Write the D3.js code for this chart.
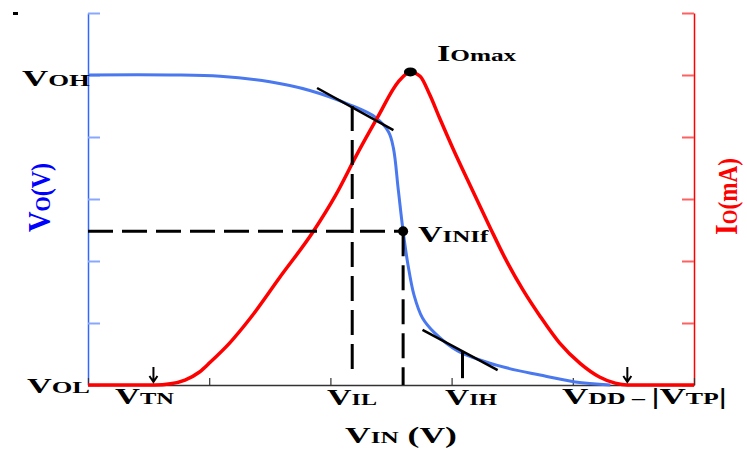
<!DOCTYPE html>
<html>
<head>
<meta charset="utf-8">
<style>
  body { margin: 0; background: #fff; }
  svg { display: block; }
  text { font-family: "Liberation Serif", "DejaVu Serif", serif; font-weight: bold; }
</style>
</head>
<body>
<svg width="747" height="450"></svg>
<script src="https://d3js.org/d3.v7.min.js"></script>
<script>
// VIN in tick units (0..5), outputs in tick units (0..6)
var voCurve = [
  [0, 5.0], [0.68, 5.0], [1.09, 4.98], [1.5, 4.89], [1.83, 4.75], [2.16, 4.52],
  [2.37, 4.32], [2.48, 4.08], [2.52, 3.82], [2.56, 3.15], [2.6, 2.48], [2.64, 1.94],
  [2.69, 1.45], [2.76, 1.08], [2.86, 0.84], [3.05, 0.55], [3.37, 0.32], [3.73, 0.16],
  [4.02, 0.05], [4.31, 0.0]
];
var ioCurve = [
  [0, 0], [0.55, 0], [0.68, 0.02], [0.8, 0.08], [0.92, 0.21], [1.01, 0.37],
  [1.17, 0.68], [1.34, 1.08], [1.58, 1.73], [1.86, 2.48], [2.04, 3.05], [2.23, 3.76],
  [2.39, 4.32], [2.56, 4.89], [2.66, 5.05], [2.74, 4.98], [2.82, 4.68], [2.9, 4.31],
  [3.01, 3.82], [3.17, 3.15], [3.32, 2.53], [3.44, 2.05], [3.59, 1.53], [3.73, 1.11],
  [3.89, 0.68], [4.06, 0.35], [4.22, 0.13], [4.35, 0.03], [4.45, 0], [5, 0]
];
var tangents = [
  [[1.89, 4.79], [2.52, 4.11]],
  [[2.76, 0.89], [3.38, 0.24]]
];
var vIL = 2.18, vINf = 2.6, voINf = 2.48, vIH = 3.09, voIH = 0.55, voIL = 4.5;
var peak = [2.66, 5.05];
var arrows = [0.54, 4.45];
var xTicks = [0, 1, 2, 3, 4, 5];
var yTicks = [0, 1, 2, 3, 4, 5, 6];

var svg = d3.select('svg');
var x = d3.scaleLinear().domain([0, 5]).range([88, 694]);
var y = d3.scaleLinear().domain([0, 6]).range([385, 13]);

// axes
var gl = svg.append('g').attr('transform', 'translate(88,0)')
  .call(d3.axisLeft(y).tickValues(yTicks).tickSize(-12).tickSizeOuter(0).tickFormat(''));
gl.select('.domain').attr('stroke', '#3366ff').attr('stroke-width', 1.5);
gl.selectAll('.tick line').attr('stroke', '#88a8ff').attr('stroke-width', 2);

var gr = svg.append('g').attr('transform', 'translate(694,0)')
  .call(d3.axisRight(y).tickValues(yTicks).tickSize(-12).tickSizeOuter(0).tickFormat(''));
gr.select('.domain').attr('stroke', '#ff0000').attr('stroke-width', 1.5);
gr.selectAll('.tick line').attr('stroke', '#ff6060').attr('stroke-width', 2);

var gb = svg.append('g').attr('transform', 'translate(0,385)')
  .call(d3.axisBottom(x).tickValues(xTicks).tickSize(-7).tickSizeOuter(0).tickFormat(''));
gb.select('.domain').attr('stroke', '#333').attr('stroke-width', 1.5);
gb.selectAll('.tick line').attr('stroke', '#333').attr('stroke-width', 1.2);

var voLine = d3.line().x(d => x(d[0])).y(d => y(d[1])).curve(d3.curveCatmullRom);
var ioLine = d3.line().x(d => x(d[0])).y(d => y(d[1])).curve(d3.curveMonotoneX);

svg.append('path').datum(voCurve).attr('d', voLine)
  .attr('fill', 'none').attr('stroke', '#4a78ee').attr('stroke-width', 3);
svg.append('path').datum(ioCurve).attr('d', ioLine)
  .attr('fill', 'none').attr('stroke', '#ff0000').attr('stroke-width', 3.5);

// dashed guides
var dash = svg.append('g').attr('stroke', '#000').attr('stroke-width', 3).attr('stroke-dasharray', '25,9');
dash.append('line').attr('x1', x(0)).attr('x2', x(vINf)).attr('y1', y(voINf)).attr('y2', y(voINf));
dash.append('line').attr('x1', x(vIL)).attr('x2', x(vIL)).attr('y1', y(voIL)).attr('y2', y(0.2));
dash.append('line').attr('x1', x(vINf)).attr('x2', x(vINf)).attr('y1', y(voINf)).attr('y2', y(0));

svg.append('line').attr('x1', x(vIH)).attr('x2', x(vIH)).attr('y1', y(voIH)).attr('y2', y(0.11))
  .attr('stroke', '#000').attr('stroke-width', 3);

svg.selectAll('.tan').data(tangents).enter().append('line')
  .attr('x1', d => x(d[0][0])).attr('y1', d => y(d[0][1]))
  .attr('x2', d => x(d[1][0])).attr('y2', d => y(d[1][1]))
  .attr('stroke', '#000').attr('stroke-width', 2.5);

svg.append('ellipse').attr('cx', x(peak[0])).attr('cy', y(peak[1])).attr('rx', 6.5).attr('ry', 4.5);
svg.append('circle').attr('cx', x(vINf)).attr('cy', y(voINf)).attr('r', 5);

svg.selectAll('.arr').data(arrows).enter().append('path')
  .attr('d', d => 'M' + x(d) + ',367 L' + x(d) + ',382 M' + (x(d) - 4) + ',376 L' + x(d) + ',382 L' + (x(d) + 4) + ',376')
  .attr('fill', 'none').attr('stroke', '#000').attr('stroke-width', 2);

svg.append('rect').attr('x', 13).attr('y', 12).attr('width', 5).attr('height', 3);

// labels: text stretched to the measured width
function label(px, py, parts, width, color, rot) {
  var g = svg.append('g');
  var t = g.append('text').attr('fill', color || '#000');
  parts.forEach(p => t.append('tspan').attr('font-size', p[1]).text(p[0]));
  var w = t.node().getBBox().width;
  g.attr('transform', 'translate(' + px + ',' + py + ')' + (rot ? ' rotate(' + rot + ')' : '') + ' scale(' + (width / w) + ',1)');
}
label(22, 86, [['V', 23], ['OH', 17]], 68);
label(27, 393, [['V', 22], ['OL', 17]], 63);
label(115, 404, [['V', 24], ['TN', 17]], 60);
label(327, 405, [['V', 24], ['IL', 17]], 50);
label(445, 405, [['V', 24], ['IH', 17]], 52);
label(562, 404, [['V', 24], ['DD', 17], [' \u2013 ', 17], ['|', 24], ['V', 24], ['TP', 17], ['|', 24]], 165);
label(345, 443, [['V', 24], ['IN', 17], [' (V)', 24]], 112);
label(437, 61, [['I', 23], ['Omax', 17]], 80);
label(418, 242, [['V', 23], ['INIf', 17]], 71);
label(50, 232, [['V', 32], ['O', 22], ['(V)', 27]], 69, '#0000ff', -90);
label(737, 235, [['I', 32], ['O', 22], ['(mA)', 27]], 77, '#ff0000', -90);
</script>
</body>
</html>
